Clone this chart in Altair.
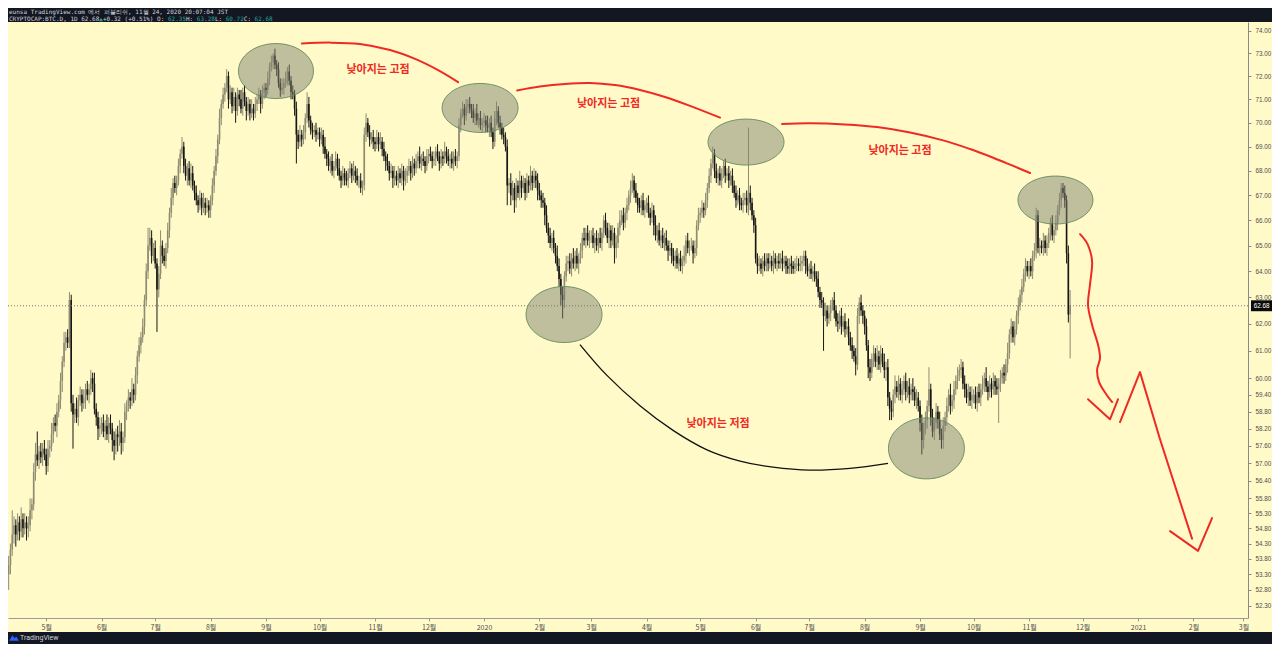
import altair as alt
import pandas as pd

# ------------------------------------------------------------------
# CRYPTOCAP:BTC.D, 1D  -- daily closes (%), one list per month
# ------------------------------------------------------------------
close_2019_04 = [53.6, 54.1, 54.6, 54.9, 54.6, 55.0, 54.7, 55.1, 54.8, 55.0, 54.8, 54.9, 55.4, 55.6, 56.7, 57.3, 57.1, 57.4, 57.2, 57.5, 57.3]
close_2019_05 = [56.9, 57.5, 57.6, 58.0, 58.4, 58.3, 58.8, 59.2, 59.9, 60.6, 61.3, 61.5, 61.3, 62.9, 59.1, 58.7, 58.9, 58.6, 59.2, 59.4, 59.1, 59.3, 59.6, 59.4, 59.6, 60.0, 59.8, 58.9, 58.6, 58.2, 58.3]
close_2019_06 = [58.4, 58.1, 58.3, 58.0, 58.4, 58.2, 57.8, 57.6, 58.0, 57.9, 58.1, 57.7, 57.9, 58.8, 59.0, 59.3, 59.2, 59.6, 59.4, 60.1, 60.8, 61.2, 61.5, 61.9, 62.9, 64.0, 65.0, 65.3, 64.6, 64.9]
close_2019_07 = [64.3, 63.3, 63.9, 65.0, 64.6, 64.4, 64.9, 65.6, 66.3, 66.9, 67.5, 67.3, 67.6, 68.2, 68.7, 69.0, 68.2, 67.8, 68.1, 67.6, 67.9, 67.4, 67.1, 66.8, 66.6, 66.9, 66.5, 66.7, 66.5, 66.6, 66.4]
close_2019_08 = [66.8, 67.4, 68.0, 68.6, 69.3, 70.2, 70.8, 71.2, 71.5, 72.0, 71.0, 71.3, 70.7, 71.1, 70.5, 71.2, 71.0, 70.6, 71.3, 70.9, 70.5, 70.8, 70.4, 70.6, 70.4, 70.8, 71.0, 71.2, 70.8, 71.3, 71.5]
close_2019_09 = [71.4, 71.9, 72.4, 72.6, 72.9, 72.5, 72.3, 71.7, 71.4, 71.5, 71.7, 71.9, 72.2, 71.8, 71.3, 71.2, 70.6, 69.5, 69.2, 69.5, 69.3, 69.6, 70.2, 70.8, 70.1, 69.7, 69.6, 69.7, 69.5, 69.6]
close_2019_10 = [69.3, 69.5, 69.0, 68.7, 68.5, 68.2, 68.4, 68.0, 68.2, 68.5, 68.1, 67.8, 67.6, 67.9, 67.7, 67.6, 67.9, 68.1, 67.8, 68.0, 67.8, 67.6, 67.6, 67.3, 67.4, 69.5, 70.0, 69.6, 69.3, 69.4, 69.2]
close_2019_11 = [69.1, 69.4, 69.1, 69.2, 68.9, 68.6, 68.4, 68.2, 67.9, 68.0, 67.7, 67.8, 67.6, 67.9, 67.7, 68.0, 67.6, 67.8, 68.0, 68.2, 67.9, 68.3, 68.1, 68.4, 68.6, 68.3, 68.5, 68.4, 68.2, 68.6]
close_2019_12 = [68.7, 68.6, 68.4, 68.5, 68.8, 68.6, 68.3, 68.6, 68.5, 68.8, 68.6, 68.4, 68.5, 68.3, 68.6, 68.4, 68.6, 69.9, 70.4, 70.6, 70.3, 70.7, 70.8, 70.6, 70.5, 70.2, 70.4, 70.1, 70.2, 69.9, 70.0]
close_2020_01 = [70.1, 69.9, 69.8, 70.0, 69.6, 69.2, 70.2, 70.5, 70.0, 69.8, 69.5, 69.4, 69.0, 67.4, 67.5, 67.0, 67.3, 66.8, 67.4, 67.1, 67.6, 67.3, 67.5, 67.1, 67.6, 67.4, 67.8, 67.5, 67.8, 67.6, 67.2]
close_2020_02 = [67.0, 66.8, 66.7, 66.2, 65.7, 65.4, 65.1, 65.3, 64.9, 64.6, 64.2, 63.7, 63.1, 62.9, 63.8, 64.3, 64.4, 64.1, 64.5, 64.3, 64.6, 64.3, 64.5, 64.8, 65.3, 65.2, 65.5, 65.2, 65.4]
close_2020_03 = [65.4, 65.1, 65.3, 65.0, 65.3, 65.1, 65.5, 66.0, 65.7, 65.3, 65.6, 65.2, 65.5, 64.9, 65.1, 65.7, 66.0, 66.2, 65.9, 66.3, 66.6, 67.0, 67.3, 67.6, 67.2, 66.9, 66.6, 66.5, 66.8, 66.4, 66.6]
close_2020_04 = [66.7, 66.3, 66.1, 66.4, 65.8, 65.4, 65.6, 65.2, 65.4, 65.1, 65.3, 65.0, 64.8, 64.9, 64.6, 64.4, 64.6, 64.3, 64.5, 64.2, 64.4, 64.6, 65.2, 64.9, 65.0, 65.0, 64.7, 64.9, 65.8, 66.2]
close_2020_05 = [66.3, 66.5, 66.4, 66.8, 67.3, 67.8, 68.3, 68.7, 68.0, 67.7, 67.9, 67.6, 67.9, 68.2, 67.8, 67.9, 67.6, 67.8, 67.4, 67.1, 66.8, 67.0, 66.7, 66.6, 66.8, 66.9, 66.6, 67.1, 66.7, 66.2, 65.8]
close_2020_06 = [64.5, 64.2, 64.3, 64.1, 64.4, 64.2, 64.5, 64.3, 64.4, 64.2, 64.5, 64.3, 64.4, 64.3, 64.5, 64.3, 64.4, 64.2, 64.1, 64.3, 64.2, 64.1, 64.3, 64.3, 64.2, 64.3, 64.4, 64.6, 64.2, 64.0]
close_2020_07 = [64.1, 63.9, 64.0, 63.8, 63.7, 63.2, 62.9, 62.8, 62.3, 62.5, 62.2, 62.4, 62.7, 62.9, 62.5, 62.1, 62.0, 62.3, 61.9, 62.1, 61.8, 61.9, 61.5, 61.2, 61.0, 60.8, 60.5, 62.3, 62.8, 62.5, 62.3]
close_2020_08 = [61.9, 61.2, 60.4, 60.2, 60.7, 60.9, 60.6, 60.8, 60.5, 60.9, 60.6, 60.3, 60.4, 59.3, 58.9, 58.8, 59.4, 59.7, 59.5, 59.8, 59.4, 59.6, 59.9, 59.5, 59.7, 59.4, 59.6, 59.5, 59.2, 59.3, 59.0]
close_2020_09 = [58.4, 57.8, 58.2, 58.5, 59.0, 59.6, 58.6, 58.1, 58.4, 58.8, 58.5, 58.0, 57.8, 58.3, 58.6, 59.0, 59.4, 59.0, 59.2, 59.6, 59.9, 60.1, 60.3, 60.4, 59.8, 59.6, 59.3, 59.5, 59.2, 59.4]
close_2020_10 = [59.4, 59.1, 59.5, 59.3, 59.6, 59.8, 60.0, 59.7, 59.5, 59.8, 59.6, 59.9, 59.7, 59.6, 59.8, 60.0, 60.2, 60.1, 60.5, 60.9, 61.6, 61.9, 61.5, 61.8, 62.3, 62.7, 63.1, 63.4, 63.9, 64.2, 64.0]
close_2020_11 = [64.2, 64.0, 64.6, 64.8, 66.2, 64.9, 65.0, 64.9, 65.2, 64.9, 65.1, 65.5, 65.9, 65.4, 65.6, 65.9, 66.4, 66.8, 67.3, 67.1, 66.8, 64.7, 62.35, 62.68]

# upper wick length above the body (tenths of a point), per month
upw_2019_04 = [3, 2, 8, 3, 2, 3, 2, 4, 2, 3, 2, 3, 4, 2, 3, 4, 8, 2, 3, 2, 3]
upw_2019_05 = [2, 3, 2, 4, 2, 3, 3, 2, 3, 2, 4, 2, 3, 3, 2, 3, 2, 4, 2, 3, 2, 3, 2, 3, 2, 3, 2, 4, 2, 2, 3]
upw_2019_06 = [2, 3, 2, 4, 2, 3, 2, 3, 2, 3, 4, 3, 2, 3, 2, 3, 2, 4, 2, 3, 2, 3, 2, 3, 2, 3, 7, 4, 3, 2]
upw_2019_07 = [3, 2, 3, 6, 2, 3, 2, 3, 2, 4, 2, 3, 2, 3, 2, 4, 2, 3, 2, 3, 4, 3, 2, 3, 2, 3, 2, 4, 2, 3, 2]
upw_2019_08 = [2, 3, 2, 3, 2, 4, 2, 3, 2, 3, 2, 3, 2, 4, 2, 3, 2, 4, 2, 3, 2, 3, 2, 4, 2, 3, 2, 3, 2, 3, 2]
upw_2019_09 = [2, 3, 2, 3, 1, 3, 2, 3, 2, 4, 2, 3, 2, 3, 2, 3, 2, 3, 2, 4, 2, 3, 2, 5, 3, 2, 3, 2, 3, 2]
upw_2019_10 = [2, 3, 2, 4, 2, 3, 2, 3, 2, 3, 2, 4, 2, 3, 2, 3, 2, 3, 2, 4, 2, 3, 2, 3, 2, 3, 4, 2, 3, 2, 3]
upw_2019_11 = [2, 3, 2, 4, 2, 3, 2, 3, 2, 3, 2, 4, 2, 3, 2, 3, 2, 3, 2, 3, 2, 3, 2, 3, 2, 4, 2, 3, 2, 3]
upw_2019_12 = [2, 3, 2, 3, 2, 3, 2, 3, 2, 4, 2, 3, 2, 3, 2, 3, 2, 3, 2, 3, 2, 3, 2, 3, 2, 3, 2, 4, 2, 3, 2]
upw_2020_01 = [3, 2, 4, 2, 3, 2, 3, 4, 2, 3, 2, 3, 2, 3, 2, 4, 3, 2, 3, 2, 4, 2, 3, 2, 3, 2, 4, 2, 3, 2, 3]
upw_2020_02 = [3, 2, 3, 2, 4, 2, 3, 2, 3, 2, 4, 3, 2, 3, 2, 3, 2, 3, 2, 4, 2, 3, 2, 3, 2, 4, 2, 3, 2]
upw_2020_03 = [2, 3, 2, 3, 2, 4, 2, 2, 3, 2, 3, 2, 3, 2, 3, 2, 4, 2, 3, 2, 3, 2, 3, 3, 2, 3, 2, 3, 2, 3, 2]
upw_2020_04 = [2, 3, 2, 3, 2, 4, 2, 3, 2, 3, 2, 3, 2, 3, 2, 3, 2, 3, 2, 3, 2, 4, 2, 3, 2, 3, 2, 3, 2, 3]
upw_2020_05 = [2, 3, 2, 3, 2, 3, 2, 3, 2, 3, 2, 3, 2, 2, 3, 2, 3, 2, 3, 2, 3, 2, 3, 2, 3, 2, 3, 27, 3, 2, 2]
upw_2020_06 = [3, 2, 3, 2, 2, 3, 2, 2, 3, 2, 3, 2, 2, 3, 2, 3, 2, 2, 3, 2, 3, 2, 2, 3, 2, 3, 2, 2, 2, 3]
upw_2020_07 = [2, 3, 2, 3, 2, 3, 2, 3, 2, 3, 2, 3, 2, 1, 3, 2, 3, 2, 3, 2, 3, 2, 3, 2, 3, 2, 3, 3, 2, 3, 2]
upw_2020_08 = [2, 3, 2, 3, 2, 3, 2, 4, 2, 3, 2, 3, 2, 3, 2, 3, 2, 4, 2, 3, 2, 3, 2, 3, 2, 3, 2, 4, 2, 3, 2]
upw_2020_09 = [2, 3, 2, 3, 2, 8, 2, 3, 2, 3, 2, 3, 2, 3, 2, 3, 2, 4, 2, 3, 2, 3, 2, 3, 2, 3, 2, 3, 2, 3]
upw_2020_10 = [2, 3, 2, 3, 2, 3, 2, 4, 2, 3, 2, 3, 2, 3, 2, 3, 2, 3, 2, 4, 2, 3, 2, 3, 2, 3, 2, 3, 2, 3, 2]
upw_2020_11 = [2, 3, 2, 3, 3, 2, 3, 2, 3, 2, 3, 2, 2, 3, 2, 3, 2, 3, 2, 2, 3, 2, 3, 6]

# lower wick length below the body (tenths of a point), per month
lww_2019_04 = [5, 3, 2, 3, 4, 2, 3, 2, 3, 2, 4, 3, 2, 3, 2, 3, 2, 3, 2, 3, 2]
lww_2019_05 = [3, 2, 3, 2, 3, 2, 4, 2, 3, 4, 2, 3, 2, 2, 3, 12, 3, 2, 3, 2, 3, 2, 4, 2, 3, 2, 3, 2, 3, 4, 3]
lww_2019_06 = [3, 2, 3, 2, 3, 2, 4, 5, 3, 5, 3, 4, 3, 2, 3, 2, 3, 2, 3, 2, 3, 2, 3, 2, 3, 2, 3, 2, 3, 2]
lww_2019_07 = [2, 16, 3, 2, 3, 2, 3, 2, 3, 2, 3, 2, 3, 2, 3, 2, 3, 2, 4, 2, 3, 2, 3, 2, 3, 2, 3, 2, 3, 2, 3]
lww_2019_08 = [3, 2, 3, 2, 3, 2, 3, 2, 3, 2, 4, 2, 3, 2, 5, 2, 3, 2, 3, 2, 4, 2, 3, 2, 3, 2, 3, 2, 4, 2, 3]
lww_2019_09 = [3, 2, 3, 2, 3, 2, 3, 2, 3, 2, 3, 2, 3, 2, 3, 2, 3, 12, 3, 2, 3, 2, 3, 2, 3, 2, 3, 2, 3, 2]
lww_2019_10 = [3, 2, 3, 2, 3, 2, 3, 2, 3, 2, 3, 2, 3, 2, 3, 2, 3, 2, 3, 2, 3, 2, 3, 2, 3, 2, 3, 2, 3, 2, 3]
lww_2019_11 = [3, 2, 3, 2, 3, 2, 4, 2, 3, 2, 4, 3, 2, 3, 2, 3, 4, 2, 3, 2, 3, 2, 3, 2, 3, 2, 3, 2, 3, 2]
lww_2019_12 = [3, 2, 3, 2, 3, 2, 3, 2, 3, 2, 3, 2, 3, 2, 3, 2, 3, 2, 3, 2, 4, 2, 3, 2, 3, 2, 3, 2, 3, 2, 3]
lww_2020_01 = [2, 3, 2, 4, 2, 3, 2, 3, 2, 3, 2, 3, 2, 8, 3, 4, 2, 5, 3, 2, 3, 4, 2, 3, 2, 3, 2, 3, 2, 3, 4]
lww_2020_02 = [2, 3, 2, 4, 2, 3, 2, 3, 2, 3, 2, 3, 4, 7, 3, 2, 3, 2, 3, 2, 3, 2, 4, 2, 3, 2, 3, 2, 3]
lww_2020_03 = [3, 2, 4, 2, 3, 2, 3, 2, 3, 2, 4, 3, 2, 6, 4, 2, 3, 2, 3, 2, 3, 2, 3, 2, 3, 2, 3, 2, 3, 2, 3]
lww_2020_04 = [3, 2, 3, 2, 4, 2, 3, 2, 3, 2, 3, 2, 4, 2, 3, 2, 3, 2, 3, 2, 3, 2, 3, 2, 3, 2, 4, 2, 3, 2]
lww_2020_05 = [3, 2, 3, 2, 3, 2, 3, 2, 3, 2, 3, 2, 3, 2, 3, 2, 3, 2, 3, 2, 3, 2, 3, 2, 3, 2, 3, 4, 3, 2, 3]
lww_2020_06 = [2, 3, 2, 2, 3, 2, 2, 3, 2, 2, 3, 2, 3, 2, 2, 3, 2, 3, 2, 2, 3, 2, 2, 3, 2, 2, 3, 2, 3, 2]
lww_2020_07 = [3, 2, 3, 2, 3, 2, 3, 2, 13, 2, 3, 2, 3, 2, 3, 2, 3, 2, 3, 2, 3, 2, 3, 2, 3, 2, 4, 2, 3, 2, 3]
lww_2020_08 = [3, 2, 4, 3, 2, 3, 2, 3, 2, 3, 2, 3, 4, 3, 4, 3, 2, 3, 2, 3, 2, 3, 2, 3, 2, 3, 2, 3, 2, 3, 2]
lww_2020_09 = [3, 5, 3, 2, 3, 2, 3, 2, 3, 2, 3, 2, 3, 3, 2, 3, 2, 3, 2, 3, 2, 3, 2, 3, 2, 3, 2, 3, 2, 3]
lww_2020_10 = [3, 2, 3, 2, 3, 2, 3, 2, 3, 2, 3, 2, 3, 2, 12, 3, 2, 3, 2, 3, 2, 3, 2, 3, 2, 3, 2, 3, 2, 3, 2]
lww_2020_11 = [3, 2, 3, 2, 3, 2, 3, 2, 3, 2, 3, 2, 3, 2, 3, 2, 3, 2, 3, 2, 3, 4, 3, 16]

FIRST_DAY = "2019-04-10"
FIRST_OPEN = 53.3
LAST_O, LAST_H, LAST_L, LAST_C = 62.35, 63.28, 60.72, 62.68
CHANGE, CHANGE_PCT = 0.32, 0.51

# price-axis tick values and month ticks of the time axis
Y_TICKS = [74, 73, 72, 71, 70, 69, 68, 67, 66, 65, 64, 63, 62, 61, 60,
           59.4, 58.8, 58.2, 57.6, 57.0, 56.4, 55.8, 55.3, 54.8, 54.3, 53.8, 53.3, 52.8, 52.3]
MONTH_TICKS = [(2019, m) for m in range(5, 13)] + [(2020, m) for m in range(1, 13)] + [(2021, m) for m in range(1, 4)]

# ------------------------------------------------------------------
# drawings (time, price)
# ------------------------------------------------------------------
ELL_NAMES = ["hi1", "hi2", "hi3", "hi4", "lo1", "lo2"]
ELL_TIMES = ["2019-09-06 14:00", "2019-12-29 19:00", "2020-05-26 15:00", "2020-11-15 19:00", "2020-02-14 19:00", "2020-09-04 14:00"]
ELL_VALUES = [72.22, 70.63, 69.19, 66.81, 62.35, 57.51]

ARC_A_T = ["2019-09-21 02:00", "2019-10-06 19:00", "2019-10-23 14:00", "2019-11-09 10:00", "2019-11-23 10:00", "2019-12-06 07:00", "2019-12-17 12:00"]
ARC_A_V = [73.43, 73.47, 73.41, 73.14, 72.75, 72.26, 71.74]
ARC_B_T = ["2020-01-19 12:00", "2020-02-01 07:00", "2020-02-15 07:00", "2020-02-29 07:00", "2020-03-14 07:00", "2020-03-28 07:00", "2020-04-11 07:00", "2020-04-25 07:00", "2020-05-12 02:00"]
ARC_B_V = [71.38, 71.55, 71.66, 71.70, 71.61, 71.40, 71.10, 70.72, 70.22]
ARC_C_T = ["2020-06-15 19:00", "2020-07-01 10:00", "2020-07-21 00:00", "2020-08-07 22:00", "2020-08-26 10:00", "2020-09-13 22:00", "2020-09-29 00:00", "2020-10-11 22:00", "2020-10-22 12:00", "2020-11-01 14:00"]
ARC_C_V = [69.95, 69.98, 69.93, 69.82, 69.59, 69.26, 68.90, 68.54, 68.22, 67.91]
LOW_ARC_T = ["2020-02-23 17:00", "2020-03-09 19:00", "2020-03-28 07:00", "2020-04-15 19:00", "2020-05-04 19:00", "2020-05-23 07:00", "2020-06-10 17:00", "2020-07-01 10:00", "2020-07-23 19:00", "2020-08-14 02:00"]
LOW_ARC_V = [61.23, 60.10, 59.01, 58.14, 57.46, 57.07, 56.86, 56.76, 56.82, 56.99]
SQUIG_T = ["2020-11-29 13:00", "2020-12-04 00:00", "2020-12-06 07:00", "2020-12-05 02:00", "2020-12-04 00:00", "2020-12-06 07:00", "2020-12-09 14:00", "2020-12-10 17:00", "2020-12-09 02:00", "2020-12-10 05:00", "2020-12-14 02:00", "2020-12-17 12:00"]
SQUIG_V = [65.45, 65.02, 64.36, 63.47, 62.71, 61.96, 61.23, 60.73, 60.30, 59.86, 59.43, 59.14]
HOOK1_T = ["2020-12-04 00:00", "2020-12-16 07:00", "2020-12-20 19:00"]
HOOK1_V = [59.24, 58.53, 59.24]
ZIG_T = ["2020-12-21 22:00", "2021-01-02 02:00", "2021-01-13 07:00", "2021-01-31 05:00"]
ZIG_V = [58.43, 60.22, 57.83, 54.46]
HOOK2_T = ["2021-01-18 22:00", "2021-02-03 14:00", "2021-02-11 10:00"]
HOOK2_V = [54.71, 54.06, 55.14]

NOTE_TEXT = ["낮아지는 고점", "낮아지는 고점", "낮아지는 고점", "낮아지는 저점"]
NOTE_T = ["2019-11-02 17:00", "2020-03-10 17:00", "2020-08-20 19:00", "2020-05-10 23:00"]
NOTE_V = [72.26, 70.80, 68.82, 58.36]

HEADER_1 = "eunsa TradingView.com 에서 퍼블리쉬, 11월 24, 2020 20:07:04 JST"
SYMBOL = "CRYPTOCAP:BTC.D, 1D"

# ------------------------------------------------------------------
# styles / layout
# ------------------------------------------------------------------
PLOT_W, PLOT_H = 1240, 596
PAD = {"left": 0, "top": 14, "right": 24, "bottom": 26}
TOTAL_W = PLOT_W + PAD["left"] + PAD["right"]
BG = "#fffac8"
FRAME = "#131722"
UP_COLOR, DOWN_COLOR = "#8e8b72", "#161616"
RED = "#ee2a24"
ELL_FILL, ELL_EDGE = "#7f8172", "#638c5f"
ELL_SHAPES = {"hi1": (37.5, 27.5), "hi2": (38, 24.5), "hi3": (38, 23), "hi4": (37.5, 24), "lo1": (38, 28), "lo2": (38, 30.5)}


def iso(s):
    return pd.Timestamp(s).strftime("%Y-%m-%dT%H:%M:00Z")


def ellipse_path(a):
    k = 0.5523
    ka = k * a
    return (f"M-1,0C-1,{-ka:.4f},{-k},{-a:.4f},0,{-a:.4f}"
            f"C{k},{-a:.4f},1,{-ka:.4f},1,0"
            f"C1,{ka:.4f},{k},{a:.4f},0,{a:.4f}"
            f"C{-k},{a:.4f},-1,{ka:.4f},-1,0Z")


months = ["2019_04", "2019_05", "2019_06", "2019_07", "2019_08", "2019_09", "2019_10", "2019_11", "2019_12",
          "2020_01", "2020_02", "2020_03", "2020_04", "2020_05", "2020_06", "2020_07", "2020_08", "2020_09",
          "2020_10", "2020_11"]
g = globals()
closes, upw, lww = [], [], []
for m in months:
    c, u, w = g["close_" + m], g["upw_" + m], g["lww_" + m]
    assert len(c) == len(u) == len(w), (m, len(c), len(u), len(w))
    closes += c
    upw += u
    lww += w

dates = pd.date_range(FIRST_DAY, periods=len(closes), freq="D")
opens = [FIRST_OPEN] + closes[:-1]
highs = [max(o, c) + u / 10 for o, c, u in zip(opens, closes, upw)]
lows = [min(o, c) - w / 10 for o, c, w in zip(opens, closes, lww)]
highs[-1], lows[-1] = LAST_H, LAST_L

candles = pd.DataFrame({
    "date": dates.strftime("%Y-%m-%d"),
    "open": opens, "close": closes, "high": highs, "low": lows,
    "dir": ["up" if c >= o else "down" for o, c in zip(opens, closes)],
})

X_SCALE = alt.Scale(type="utc", domain=[
    alt.DateTime(year=2019, month=4, date=9, hours=15, minutes=7, utc=True),
    alt.DateTime(year=2021, month=3, date=3, hours=12, minutes=43, utc=True)])
Y_SCALE = alt.Scale(type="log", domain=[51.914, 74.39], nice=False)

X_AXIS = alt.Axis(
    title=None, grid=False,
    values=[alt.DateTime(year=y, month=m, date=1, utc=True) for y, m in MONTH_TICKS],
    labelExpr="utcmonth(datum.value) == 0 ? utcFormat(datum.value, '%Y') : (utcmonth(datum.value) + 1) + '월'",
    labelFont="Noto Sans CJK KR", labelFontSize=7, labelColor="#4d4d4d", labelPadding=2,
    tickSize=3, tickColor="#9a9a9a", domainColor="#9a9a9a", labelFlush=False, labelOverlap=False)
Y_AXIS = alt.Axis(
    title=None, grid=False, orient="right", values=Y_TICKS, format=".2f",
    labelFont="Liberation Sans", labelFontSize=6.3, labelColor="#4d4d4d", labelPadding=4,
    tickSize=3, tickColor="#8a8a8a", domainColor="#8a8a8a", labelOverlap=False, labelFlush=False)

COLOR = alt.Color("dir:N", scale=alt.Scale(domain=["up", "down"], range=[UP_COLOR, DOWN_COLOR]), legend=None)


# every layer carries the same axis definitions so the shared axes merge cleanly
def xenc():
    return alt.X("date:T", scale=X_SCALE, axis=X_AXIS)


def yenc(field="v"):
    return alt.Y(f"{field}:Q", scale=Y_SCALE, axis=Y_AXIS)


base = alt.Chart(candles)
wicks = base.mark_rule(strokeWidth=1).encode(x=xenc(), y=yenc("low"), y2="high:Q", color=COLOR)
bodies = base.mark_rule(strokeWidth=1.6, strokeCap="butt").encode(x=xenc(), y=yenc("open"), y2="close:Q", color=COLOR)

last_line = alt.Chart(pd.DataFrame({"v": [LAST_C]})).mark_rule(
    color="#707070", strokeDash=[1, 2], strokeWidth=1).encode(
    y=yenc(), x=alt.value(0), x2=alt.value(PLOT_W))

ell_df = pd.DataFrame({"name": ELL_NAMES, "date": [iso(t) for t in ELL_TIMES], "v": ELL_VALUES})
ellipses = []
for name, (rx, ry) in ELL_SHAPES.items():
    ellipses.append(
        alt.Chart(ell_df).transform_filter(alt.datum.name == name).mark_point(
            shape=ellipse_path(ry / rx), size=(2 * rx) ** 2, filled=True, fill=ELL_FILL, fillOpacity=0.5,
            stroke=ELL_EDGE, strokeWidth=1, strokeOpacity=0.9, opacity=1).encode(x=xenc(), y=yenc()))


def path_df(groups):
    rows = []
    for gid, ts, vs in groups:
        for i, (t, v) in enumerate(zip(ts, vs)):
            rows.append({"id": gid, "i": i, "date": iso(t), "v": v})
    return pd.DataFrame(rows)


red_curves = alt.Chart(path_df([("a", ARC_A_T, ARC_A_V), ("b", ARC_B_T, ARC_B_V), ("c", ARC_C_T, ARC_C_V),
                                ("s", SQUIG_T, SQUIG_V)])).mark_line(
    color=RED, strokeWidth=2, interpolate="cardinal", strokeCap="round", strokeJoin="round").encode(
    x=xenc(), y=yenc(), detail="id:N", order="i:Q")
red_strokes = alt.Chart(path_df([("h1", HOOK1_T, HOOK1_V), ("z", ZIG_T, ZIG_V), ("h2", HOOK2_T, HOOK2_V)])).mark_line(
    color=RED, strokeWidth=2, interpolate="linear", strokeCap="round", strokeJoin="round").encode(
    x=xenc(), y=yenc(), detail="id:N", order="i:Q")
low_curve = alt.Chart(path_df([("k", LOW_ARC_T, LOW_ARC_V)])).mark_line(
    color="#111111", strokeWidth=1.3, interpolate="cardinal").encode(
    x=xenc(), y=yenc(), detail="id:N", order="i:Q")

notes = alt.Chart(pd.DataFrame({"label": NOTE_TEXT, "date": [iso(t) for t in NOTE_T], "v": NOTE_V})).mark_text(
    font="Noto Sans CJK KR", fontSize=11, fontWeight="bold", color=RED).encode(
    x=xenc(), y=yenc(), text="label:N")

# frame: header bar, footer bar, last-price tag
one = pd.DataFrame({"k": [0]})
top_bar = alt.Chart(one).mark_rect(color=FRAME).encode(
    x=alt.value(0), x2=alt.value(TOTAL_W), y=alt.value(-PAD["top"]), y2=alt.value(0))
bottom_bar = alt.Chart(one).mark_rect(color=FRAME).encode(
    x=alt.value(0), x2=alt.value(TOTAL_W), y=alt.value(PLOT_H + 14), y2=alt.value(PLOT_H + PAD["bottom"]))

FS = 6.0
CW = 0.602 * FS
seg_text = [f"{SYMBOL} {LAST_C:.2f}", "\u25b2", f" +{CHANGE:.2f} (+{CHANGE_PCT:.2f}%) O:", f"{LAST_O:.2f}",
            " H:", f"{LAST_H:.2f}", " L:", f"{LAST_L:.2f}", " C:", f"{LAST_C:.2f}"]
seg_color = ["#d1d4dc", "#26a69a", "#d1d4dc", "#26a69a", "#d1d4dc", "#26a69a", "#d1d4dc", "#26a69a", "#d1d4dc", "#26a69a"]
header_layers = [alt.Chart(one).mark_text(
    font="DejaVu Sans Mono", fontSize=FS, align="left", baseline="middle", color="#d1d4dc").encode(
    x=alt.value(1), y=alt.value(-10), text=alt.value(HEADER_1))]
pos = 0
for s, col in zip(seg_text, seg_color):
    header_layers.append(alt.Chart(one).mark_text(
        font="DejaVu Sans Mono", fontSize=FS, align="left", baseline="middle", color=col).encode(
        x=alt.value(1 + pos * CW), y=alt.value(-3.5), text=alt.value(s)))
    pos += len(s)

footer_y = PLOT_H + 14 + (PAD["bottom"] - 14) / 2
logo = alt.Chart(one).mark_point(
    shape="M-1,0.55L-0.3,-0.55L0.1,0.05L0.45,-0.3L1,0.55Z", size=100, filled=True, fill="#2962ff", opacity=1).encode(
    x=alt.value(6), y=alt.value(footer_y))
brand = alt.Chart(one).mark_text(
    font="Roboto", fontSize=7, align="left", baseline="middle", color="#d1d4dc").encode(
    x=alt.value(12), y=alt.value(footer_y), text=alt.value("TradingView"))

tag_df = pd.DataFrame({"v": [LAST_C], "label": [f"{LAST_C:.2f}"]})
tag_box = alt.Chart(tag_df).mark_point(
    shape="M-1,-0.52H1V0.52H-1Z", size=21 ** 2, filled=True, fill="#0b0b0b", opacity=1).encode(
    x=alt.value(PLOT_W + 13.5), y=yenc())
tag_text = alt.Chart(tag_df).mark_text(
    font="Liberation Sans", fontSize=6.3, color="#ffffff", baseline="middle").encode(
    x=alt.value(PLOT_W + 13.5), y=yenc(), text="label:N")

chart = alt.layer(
    wicks, bodies, last_line, *ellipses, red_curves, red_strokes, low_curve, notes,
    top_bar, bottom_bar, *header_layers, logo, brand, tag_box, tag_text,
).properties(
    width=PLOT_W, height=PLOT_H, padding=PAD,
    autosize=alt.AutoSizeParams(type="none"), background=BG,
).configure_view(strokeWidth=0)

chart.save("out.html", embed_options={"renderer": "svg", "actions": False})
